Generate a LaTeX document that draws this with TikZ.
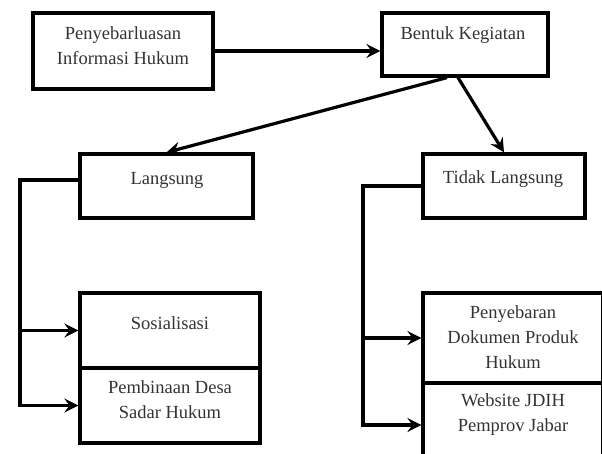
\documentclass[tikz,border=0pt]{standalone}
\usepackage{fontspec}
\setmainfont{Liberation Serif}
\usetikzlibrary{arrows.meta}
\begin{document}
\begin{tikzpicture}[x=1pt,y=-1pt,
  box/.style={draw, line width=3.2pt, rectangle, inner sep=0pt},
  txt/.style={align=center, inner sep=0pt, text=black!80, font=\fontsize{18.5}{25}\selectfont},
  conn/.style={line width=3.2pt, line join=miter},
  arr/.style={conn, -{Stealth[length=14pt,width=14pt,inset=5pt]}}]
\useasboundingbox (0,0) rectangle (602,454);
% boxes
\node[box, minimum width=180pt, minimum height=76pt] (P) at (123,51) {};
\node[box, minimum width=166pt, minimum height=63pt] (B) at (465,44.5) {};
\node[box, minimum width=173pt, minimum height=64pt] (L) at (166.5,186) {};
\node[box, minimum width=162pt, minimum height=64pt] (T) at (504,186) {};
\node[box, minimum width=180pt, minimum height=75pt] (S) at (170,330.5) {};
\node[box, minimum width=180pt, minimum height=75pt] (D) at (170,405.5) {};
\node[box, minimum width=180pt, minimum height=90pt] (K) at (513,338) {};
\node[box, minimum width=180pt, minimum height=84pt] (W) at (513,425) {};
% texts
\node[txt] (Pt) at (123,46) {Penyebarluasan\\Informasi Hukum};
\node[txt] (Bt) at (463,35) {Bentuk Kegiatan};
\node[txt] (Lt) at (167,180) {Langsung};
\node[txt] (Tt) at (503,179) {Tidak Langsung};
\node[txt] (St) at (170,323) {Sosialisasi};
\node[txt] (Dt) at (170,399.5) {Pembinaan Desa\\Sadar Hukum};
\node[txt] (Kt) at (513,336.7) {Penyebaran\\Dokumen Produk\\Hukum};
\node[txt] (Wt) at (513,414.5) {Website JDIH\\Pemprov Jabar};
% connectors
\coordinate (lx) at (20,0);
\coordinate (rx) at (363,0);
\draw[arr] (P.east) -- (P.east -| B.west);
\draw[arr] ([xshift=-18pt]B.south) -- (L.north);
\draw[arr] ([xshift=-7pt]B.south) -- (T.north);
\draw[arr] ([yshift=6pt]L.west) -| (lx |- D.west) -- (D.west);
\draw[arr] (lx |- S.west) -- (S.west);
\draw[arr] (T.west) -| (rx |- W.west) -- (W.west);
\draw[arr] (rx |- K.west) -- (K.west);
\end{tikzpicture}
\end{document}
